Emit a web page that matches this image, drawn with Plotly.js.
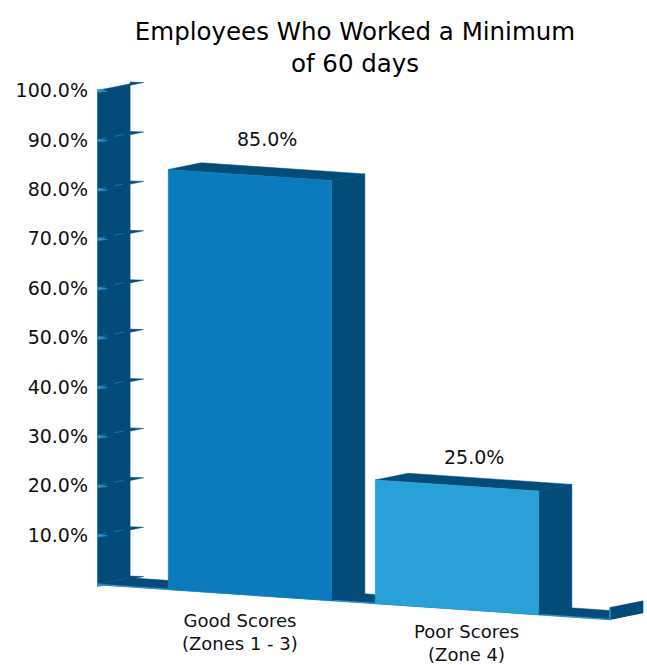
<!DOCTYPE html>
<html>
<head>
<meta charset="utf-8">
<script src="https://cdn.plot.ly/plotly-3.0.1.min.js"></script>
<style>html,body{margin:0;padding:0;background:#fff;}#chart{width:647px;height:665px;}</style>
</head>
<body>
<div id="chart"></div>
<script>
// ---- data ----
const categories = ['Good Scores<br>(Zones 1 - 3)', 'Poor Scores<br>(Zone 4)'];
const values = [85.0, 25.0];
const valueLabels = ['85.0%', '25.0%'];
const yTickVals = [10, 20, 30, 40, 50, 60, 70, 80, 90, 100];
const yTickText = ['10.0%', '20.0%', '30.0%', '40.0%', '50.0%', '60.0%', '70.0%', '80.0%', '90.0%', '100.0%'];
const titleText = 'Employees Who Worked a Minimum<br>of 60 days';

// ---- styling / geometry (pseudo-3D) ----
const frontColors = ['#0c7bbd', '#29a1d8'];
const dark = '#034c79';
const light = '#2a92d2';
const FONT = '"DejaVu Sans", sans-serif';
const BW = 0.79;          // bar width (category units)
const X0 = -0.739;        // wall position
const XEND = 1.739;       // floor end
const K = 2.85;           // perspective slant (% per unit)
const DX = 0.16, DY = 1.35; // depth vector
const YMAX = 100;
const labelShift = [29, 22];
const catShiftX = [-10, 10];
const catShiftY = [-37, -34];

function pt(x, v, d) { return [x + DX * d, v - K * (x - X0) + DY * d]; }
function poly(points, color, lineColor, lw) {
  const xs = points.map(p => p[0]); const ys = points.map(p => p[1]);
  xs.push(xs[0]); ys.push(ys[0]);
  return {x: xs, y: ys, type: 'scatter', mode: 'lines', fill: 'toself', fillcolor: color,
    line: {color: lineColor || color, width: lw === undefined ? 0.5 : lw}, hoverinfo: 'skip', showlegend: false};
}
function seg(points, color, width, dash) {
  return {x: points.map(p => p[0]), y: points.map(p => p[1]), type: 'scatter', mode: 'lines',
    line: {color: color, width: width, dash: dash || 'solid'}, hoverinfo: 'skip', showlegend: false};
}

const traces = [];
// wall
traces.push(poly([pt(X0, 0, 0), pt(X0, YMAX, 0), pt(X0, YMAX, 1), pt(X0, 0, 1)], dark));
traces.push(seg([pt(X0, 0, 0), pt(X0, YMAX, 0)], light, 1.5));
// wall tick lines and ticks
[0].concat(yTickVals).forEach(v => {
  traces.push(seg([pt(X0, v, 0), pt(X0, v, 1)], 'rgba(70,140,200,0.55)', 1, 'dash'));
  const b = pt(X0, v, 1);
  traces.push(poly([[b[0], b[1] + 0.35], [b[0] + 0.065, b[1] + 0.25], [b[0], b[1] - 0.3]], dark, dark, 0.5));
  const f = pt(X0, v, 0);
  traces.push(poly([[f[0], f[1] + 0.2], [f[0] + 0.05, f[1] - 0.15], [f[0], f[1] - 0.4]], light, light, 0.5));
});
// floor
traces.push(poly([pt(X0, 0, 0), pt(XEND, 0, 0), pt(XEND, 0, 1), pt(X0, 0, 1)], dark));
traces.push(seg([pt(X0, 0, 0), pt(XEND, 0, 0)], light, 1.5));
// floor end cap
traces.push(poly([pt(XEND, 0, 0), pt(XEND, 2.4, 0), pt(XEND, 2.4, 1), pt(XEND, 0, 1)], dark));
traces.push(seg([pt(XEND, 0, 0), pt(XEND, 2.4, 0)], light, 1.5));

// bars
values.forEach((v, i) => {
  const L = i - BW / 2, R = i + BW / 2;
  traces.push(poly([pt(R, 0, 0), pt(R, v, 0), pt(R, v, 1), pt(R, 0, 1)], dark));
  traces.push(poly([pt(L, v, 0), pt(R, v, 0), pt(R, v, 1), pt(L, v, 1)], dark));
  traces.push(poly([pt(L, 0, 0), pt(R, 0, 0), pt(R, v, 0), pt(L, v, 0)], frontColors[i]));
});

const annotations = [];
values.forEach((v, i) => {
  annotations.push({x: i + DX / 2, y: v - K * (i - X0) + DY, xref: 'x', yref: 'y', text: valueLabels[i],
    showarrow: false, yanchor: 'middle', yshift: labelShift[i], font: {family: FONT, size: 19, color: '#111'}});
  annotations.push({x: i, y: -K * (i - X0), xref: 'x', yref: 'y', text: categories[i],
    showarrow: false, yanchor: 'middle', xshift: catShiftX[i], yshift: catShiftY[i],
    font: {family: FONT, size: 18, color: '#111'}});
});

const layout = {
  width: 647, height: 665,
  margin: {l: 97, r: 0, t: 50, b: 25},
  paper_bgcolor: '#fff', plot_bgcolor: '#fff',
  showlegend: false,
  title: {text: titleText, x: 355 / 647, xanchor: 'center', xref: 'container', y: 1 - 40 / 665, yanchor: 'middle', yref: 'container',
    font: {family: FONT, size: 24.5, color: '#000'}},
  xaxis: {range: [X0, X0 + 550 / 207], showgrid: false, zeroline: false, showline: false, showticklabels: false, ticks: '', fixedrange: true},
  yaxis: {range: [(584.5 - 640) / 4.94, (584.5 - 50) / 4.94], tickvals: yTickVals, ticktext: yTickText,
    showgrid: false, zeroline: false, showline: false, ticks: '', ticklabelstandoff: 8,
    tickfont: {family: FONT, size: 19, color: '#111'}, fixedrange: true},
  annotations: annotations
};
Plotly.newPlot('chart', traces, layout, {displayModeBar: false, staticPlot: true});
</script>
</body>
</html>
